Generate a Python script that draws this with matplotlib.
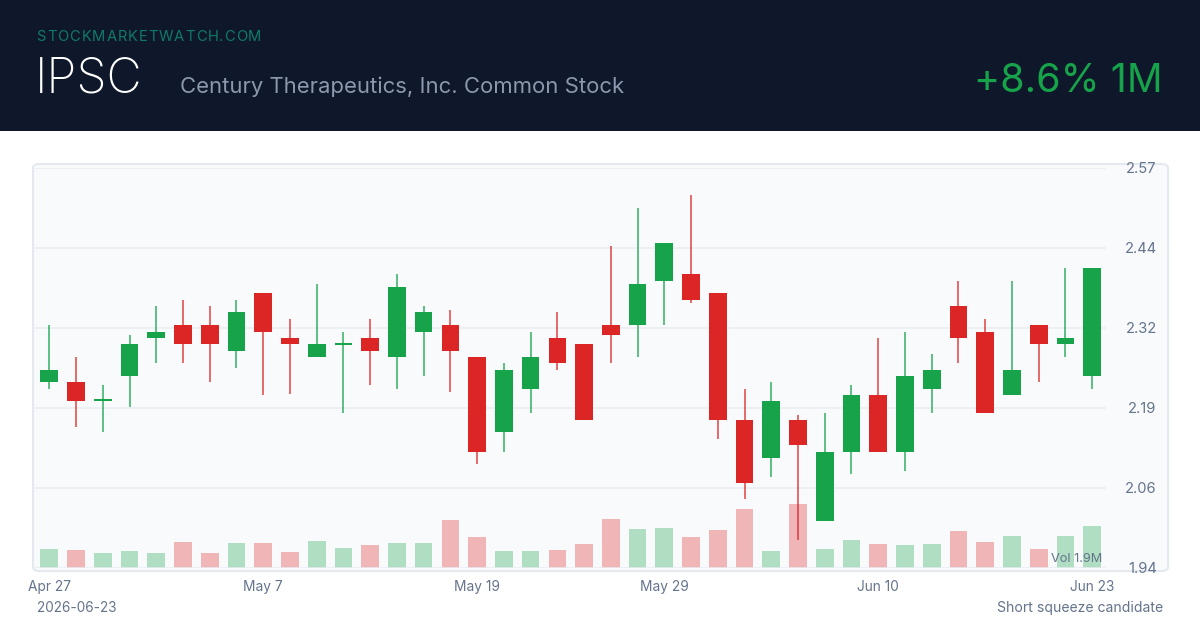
import matplotlib
matplotlib.use("Agg")
import matplotlib.pyplot as plt
from matplotlib.patches import FancyBboxPatch, Rectangle
import numpy as np

plt.rcParams['font.family'] = ['Inter', 'DejaVu Sans']

# ---------------- data ----------------
dates = ["Apr 27", "Apr 28", "Apr 29", "Apr 30", "May 1", "May 4", "May 5", "May 6", "May 7", "May 8",
         "May 11", "May 12", "May 13", "May 14", "May 15", "May 18", "May 19", "May 20", "May 21", "May 22",
         "May 26", "May 27", "May 28", "May 29", "Jun 1", "Jun 2", "Jun 3", "Jun 4", "Jun 5", "Jun 8",
         "Jun 9", "Jun 10", "Jun 11", "Jun 12", "Jun 15", "Jun 16", "Jun 17", "Jun 18", "Jun 22", "Jun 23"]
opens = [2.232, 2.232, 2.203, 2.242, 2.302, 2.322, 2.322, 2.282, 2.372, 2.302,
         2.272, 2.291, 2.302, 2.272, 2.312, 2.322, 2.272, 2.153, 2.222, 2.302,
         2.292, 2.322, 2.322, 2.392, 2.402, 2.372, 2.173, 2.113, 2.173, 2.013,
         2.123, 2.212, 2.123, 2.222, 2.352, 2.312, 2.212, 2.322, 2.292, 2.242]
closes = [2.252, 2.203, 2.205, 2.292, 2.312, 2.292, 2.292, 2.342, 2.312, 2.292,
          2.292, 2.293, 2.282, 2.382, 2.342, 2.282, 2.123, 2.252, 2.272, 2.262,
          2.173, 2.307, 2.387, 2.451, 2.362, 2.173, 2.073, 2.202, 2.133, 2.123,
          2.212, 2.123, 2.242, 2.252, 2.302, 2.183, 2.252, 2.292, 2.302, 2.412]
highs = [2.322, 2.272, 2.227, 2.307, 2.352, 2.362, 2.352, 2.362, 2.372, 2.332,
         2.387, 2.312, 2.332, 2.402, 2.352, 2.346, 2.272, 2.262, 2.312, 2.342,
         2.292, 2.447, 2.506, 2.451, 2.527, 2.372, 2.222, 2.232, 2.180, 2.183,
         2.227, 2.302, 2.312, 2.277, 2.391, 2.332, 2.391, 2.322, 2.412, 2.412]
lows = [2.222, 2.162, 2.153, 2.193, 2.262, 2.262, 2.232, 2.254, 2.212, 2.214,
        2.272, 2.183, 2.227, 2.222, 2.242, 2.217, 2.103, 2.123, 2.183, 2.252,
        2.173, 2.262, 2.272, 2.322, 2.357, 2.143, 2.048, 2.083, 1.984, 2.013,
        2.088, 2.123, 2.093, 2.183, 2.262, 2.183, 2.212, 2.232, 2.272, 2.222]
volumes_m = [0.85, 0.81, 0.68, 0.77, 0.65, 1.16, 0.66, 1.10, 1.13, 0.69,
             1.21, 0.90, 1.01, 1.13, 1.12, 2.14, 1.40, 0.74, 0.74, 0.78,
             1.09, 2.22, 1.73, 1.80, 1.37, 1.72, 2.64, 0.76, 2.86, 0.86,
             1.25, 1.07, 1.03, 1.05, 1.64, 1.18, 1.43, 0.86, 1.45, 1.90]
tick_dates = ["Apr 27", "May 7", "May 19", "May 29", "Jun 10", "Jun 23"]
price_min, price_max = 1.94, 2.57
price_tick_labels = ["1.94", "2.06", "2.19", "2.32", "2.44", "2.57"]

ticker = "IPSC"
company = "Century Therapeutics, Inc. Common Stock"
site = "STOCKMARKETWATCH.COM"
change_text = "+8.6% 1M"
footer_date = "2026-06-23"
footer_note = "Short squeeze candidate"
vol_label = "Vol 1.9M"

# ---------------- style ----------------
W, H = 1200, 630
GREEN = "#16a34a"
RED = "#dc2626"
HEADER_BG = "#0f172a"
PLOT_BG = "#f8fafc"
GRID = "#e9edf2"
TEXT_MUTED = "#64748b"

fig = plt.figure(figsize=(W / 100, H / 100), dpi=100)
fig.patch.set_facecolor("white")

def fx(px):
    return px / W

def fy(py):
    return 1 - py / H

# header band
fig.patches.append(Rectangle((0, fy(131)), 1, 131 / H, transform=fig.transFigure,
                             facecolor=HEADER_BG, edgecolor="none", zorder=0))

# plot frame
fig.patches.append(FancyBboxPatch((fx(33), fy(571)), fx(1168 - 33), (571 - 164) / H,
                                  boxstyle="round,pad=0,rounding_size=0.006",
                                  transform=fig.transFigure, facecolor=PLOT_BG,
                                  edgecolor="#e5e9ef", linewidth=1.5, zorder=0))

# axes geometry
ax_left, ax_right = 33, 1106
ax_top, ax_bot = 167.7, 567.7
x0_px, step_px = 49.3, 26.74
rect = [fx(ax_left), fy(ax_bot), fx(ax_right - ax_left), (ax_bot - ax_top) / H]

axv = fig.add_axes(rect, zorder=1)
ax = fig.add_axes(rect, zorder=2)
for a in (ax, axv):
    a.patch.set_visible(False)
    for s in a.spines.values():
        s.set_visible(False)

n = len(opens)
x = np.arange(n)
xlim = ((ax_left - x0_px) / step_px, (ax_right - x0_px) / step_px)

# volume
vol_colors = [GREEN if c >= o else RED for o, c in zip(opens, closes)]
axv.bar(x, volumes_m, width=0.66, color=vol_colors, alpha=0.32, linewidth=0)
axv.set_xlim(*xlim)
axv.set_ylim(0, max(volumes_m) / (63.3 / 400))
axv.set_xticks([])
axv.set_yticks([])

# price
ax.set_xlim(*xlim)
ax.set_ylim(price_min, price_max)
price_ticks = np.linspace(price_min, price_max, len(price_tick_labels))
for yv in price_ticks:
    ax.axhline(yv, color=GRID, lw=1.1, zorder=0)

o = np.array(opens); c = np.array(closes)
hi = np.array(highs); lo = np.array(lows)
up = c >= o
cols = np.where(up, GREEN, RED)
ax.vlines(x, lo, hi, colors=cols, lw=1.2, alpha=0.8, zorder=2)
body_bottom = np.minimum(o, c)
body_h = np.maximum(np.abs(c - o), 0.003)
ax.bar(x, body_h, bottom=body_bottom, width=0.66, color=cols, linewidth=0, zorder=3)

ax.yaxis.tick_right()
ax.set_yticks(price_ticks)
ax.set_yticklabels(price_tick_labels)
ax.tick_params(axis="y", length=0, pad=36.5, labelsize=10.6, labelcolor=TEXT_MUTED)
for lab in ax.get_yticklabels():
    lab.set_horizontalalignment("right")

tick_idx = [dates.index(d) for d in tick_dates]
ax.set_xticks(tick_idx)
ax.set_xticklabels(tick_dates)
ax.tick_params(axis="x", length=0, pad=9, labelsize=9.9, labelcolor=TEXT_MUTED)

ax.text(fx(1102 - ax_left) / fx(ax_right - ax_left), (ax_bot - 561.5) / (ax_bot - ax_top),
        vol_label, transform=ax.transAxes, ha="right", va="baseline",
        fontsize=9.2, color=TEXT_MUTED, zorder=5)

# header texts
fig.text(fx(35), fy(92.7), ticker, color="white", fontsize=35, fontweight="light",
         ha="left", va="baseline")
fig.text(fx(180), fy(92.7), company, color="#8b98ad", fontsize=15.9, ha="left", va="baseline")
fig.text(fx(1163), fy(92.3), change_text, color=GREEN, fontsize=28.5, ha="right", va="baseline")

# letter-spaced site name
renderer = fig.canvas.get_renderer()
cur = 36.5
target_w = 225.0
chars = []
widths = []
for ch in site:
    t = fig.text(0, 0, ch, fontsize=10.6, color="#0f7a68", ha="left", va="baseline")
    bb = t.get_window_extent(renderer=renderer)
    widths.append(bb.width)
    chars.append(t)
track = (target_w - sum(widths)) / (len(site) - 1)
for t, w in zip(chars, widths):
    t.set_position((fx(cur), fy(40.7)))
    cur += w + track

# footer
fig.text(fx(36.5), fy(612), footer_date, color=TEXT_MUTED, fontsize=9.8, ha="left", va="baseline")
fig.text(fx(1163.5), fy(612), footer_note, color=TEXT_MUTED, fontsize=10.1, ha="right", va="baseline")

fig.savefig("out.png", dpi=100, facecolor=fig.get_facecolor())
